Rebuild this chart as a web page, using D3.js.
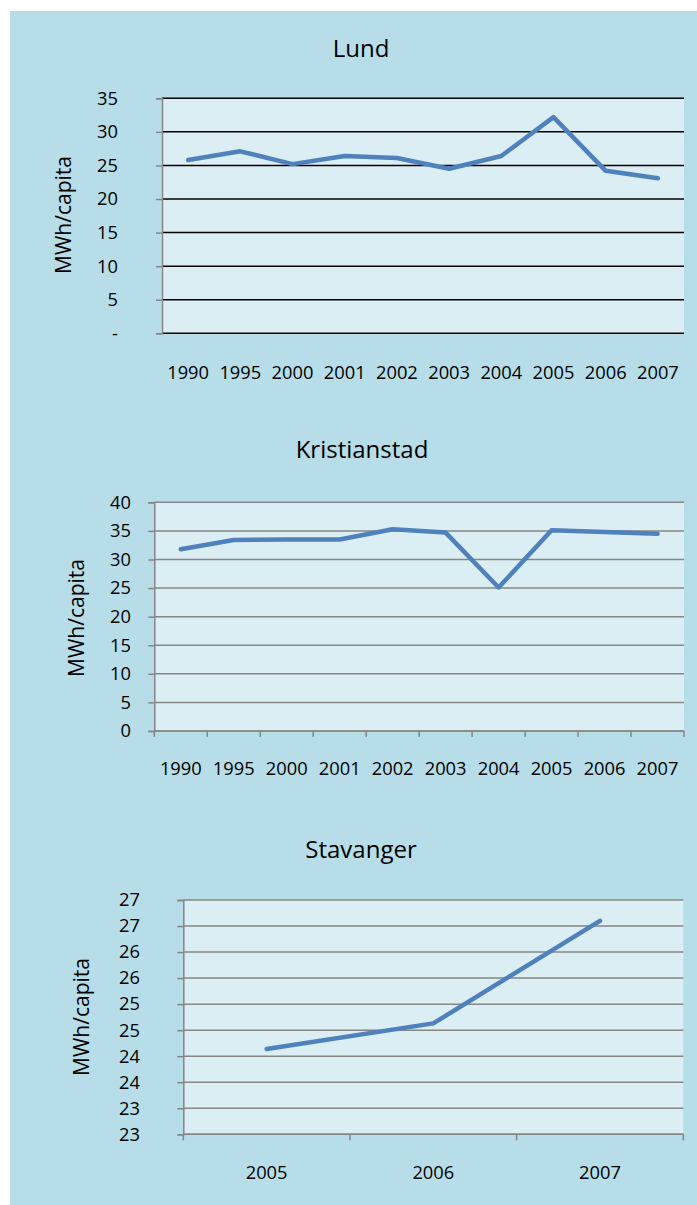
<!DOCTYPE html>
<html>
<head>
<meta charset="utf-8">
<script src="https://cdn.jsdelivr.net/npm/d3@7"></script>
<style>
  html, body { margin: 0; padding: 0; overflow: hidden; background: #ffffff; }
  #viz { width: 697px; height: 1205px; }
  #viz svg { display: block; }
  text { font-family: "Open Sans", "Noto Sans", sans-serif; fill: #000; }
</style>
</head>
<body>
<div id="viz"></div>
<script>
// data
var lundYears = ["1990", "1995", "2000", "2001", "2002", "2003", "2004", "2005", "2006", "2007"];
var lundValues = [25.8, 27.1, 25.2, 26.4, 26.1, 24.5, 26.4, 32.2, 24.2, 23.1];

var kristianstadYears = ["1990", "1995", "2000", "2001", "2002", "2003", "2004", "2005", "2006", "2007"];
var kristianstadValues = [31.8, 33.4, 33.5, 33.5, 35.3, 34.7, 25.1, 35.1, 34.8, 34.5];

var stavangerYears = ["2005", "2006", "2007"];
var stavangerValues = [24.14, 24.63, 26.6];

var lundTicks = [0, 5, 10, 15, 20, 25, 30, 35];
var kristianstadTicks = [0, 5, 10, 15, 20, 25, 30, 35, 40];
var stavangerTicks = [22.5, 23, 23.5, 24, 24.5, 25, 25.5, 26, 26.5, 27];

var width = 697, height = 1205;
var panelColor = "#b7dde8";
var plotColor = "#dbeef4";
var lineColor = "#4f81bd";
var axisGray = "#868686";

var svg = d3.select("#viz").append("svg")
    .attr("width", width)
    .attr("height", height);

svg.append("rect")
    .attr("x", 10).attr("y", 11)
    .attr("width", width - 10).attr("height", height - 11)
    .attr("fill", panelColor);

function drawChart(c) {
  var x = d3.scaleBand()
      .domain(c.years)
      .range([c.left, c.right])
      .padding(0);

  var y = d3.scaleLinear()
      .domain(c.domain)
      .range([c.bottom, c.top]);

  var g = svg.append("g");

  g.append("rect")
      .attr("x", c.left).attr("y", c.top)
      .attr("width", c.right - c.left).attr("height", c.bottom - c.top)
      .attr("fill", plotColor);

  // gridlines
  g.selectAll(".grid")
      .data(c.ticks)
      .enter()
      .append("line")
      .attr("x1", c.left).attr("x2", c.right)
      .attr("y1", function(d) { return y(d); })
      .attr("y2", function(d) { return y(d); })
      .attr("stroke", c.gridColor)
      .attr("stroke-width", 1.5);

  // y axis
  var yAxis = d3.axisLeft(y)
      .tickValues(c.ticks)
      .tickSize(6)
      .tickFormat(c.format);
  var ya = g.append("g")
      .attr("transform", "translate(" + c.left + ",0)")
      .call(yAxis);
  ya.select(".domain").attr("stroke", axisGray).attr("stroke-width", 1.5);
  ya.selectAll(".tick line").attr("stroke", axisGray).attr("stroke-width", 1.5);
  ya.selectAll(".tick text")
      .attr("x", c.labelRight - c.left)
      .attr("font-size", 18.3)
      .attr("font-family", "'Open Sans', sans-serif");

  // x axis
  var boundaries = c.years.map(function(d) { return x(d); }).concat([c.right]);
  if (c.xTicks) {
    g.append("line")
        .attr("x1", c.left).attr("x2", c.right)
        .attr("y1", c.bottom).attr("y2", c.bottom)
        .attr("stroke", axisGray).attr("stroke-width", 1.5);
    g.selectAll(".xtick")
        .data(boundaries)
        .enter()
        .append("line")
        .attr("x1", function(d) { return d; })
        .attr("x2", function(d) { return d; })
        .attr("y1", c.bottom).attr("y2", c.bottom + 6)
        .attr("stroke", axisGray).attr("stroke-width", 1.5);
  }
  g.selectAll(".xlabel")
      .data(c.years)
      .enter()
      .append("text")
      .attr("x", function(d) { return x(d) + x.bandwidth() / 2; })
      .attr("y", c.xLabelY)
      .attr("text-anchor", "middle")
      .attr("font-size", 18.3)
      .text(function(d) { return d; });

  // series line
  var line = d3.line()
      .x(function(d, i) { return x(c.years[i]) + x.bandwidth() / 2; })
      .y(function(d) { return y(d); });
  g.append("path")
      .datum(c.values)
      .attr("d", line)
      .attr("fill", "none")
      .attr("stroke", lineColor)
      .attr("stroke-width", 4.5)
      .attr("stroke-linejoin", "round")
      .attr("stroke-linecap", "round");

  // title
  g.append("text")
      .attr("x", c.titleX).attr("y", c.titleY)
      .attr("text-anchor", "middle")
      .attr("font-size", 24)
      .text(c.title);

  // axis title
  g.append("text")
      .attr("transform", "translate(" + c.axisTitleX + "," + c.axisTitleY + ") rotate(-90)")
      .attr("text-anchor", "middle")
      .attr("font-size", 21)
      .text("MWh/capita");
}

drawChart({
  title: "Lund", titleX: 361, titleY: 57,
  years: lundYears, values: lundValues, ticks: lundTicks,
  domain: [0, 35],
  left: 162, right: 684, top: 98.3, bottom: 333.3,
  labelRight: 118, xLabelY: 379, axisTitleX: 71, axisTitleY: 215,
  gridColor: "#000", xTicks: false,
  format: function(d) { return d === 0 ? "-" : d3.format(".0f")(d); }
});

drawChart({
  title: "Kristianstad", titleX: 362, titleY: 458,
  years: kristianstadYears, values: kristianstadValues, ticks: kristianstadTicks,
  domain: [0, 40],
  left: 154.3, right: 684, top: 502.3, bottom: 731,
  labelRight: 131, xLabelY: 775, axisTitleX: 84, axisTitleY: 618,
  gridColor: axisGray, xTicks: true,
  format: d3.format(".0f")
});

drawChart({
  title: "Stavanger", titleX: 361, titleY: 858,
  years: stavangerYears, values: stavangerValues, ticks: stavangerTicks,
  domain: [22.5, 27],
  left: 183.3, right: 683.3, top: 900, bottom: 1134.3,
  labelRight: 140, xLabelY: 1179, axisTitleX: 89, axisTitleY: 1017,
  gridColor: axisGray, xTicks: true,
  format: d3.format(".0f")
});
</script>
</body>
</html>
